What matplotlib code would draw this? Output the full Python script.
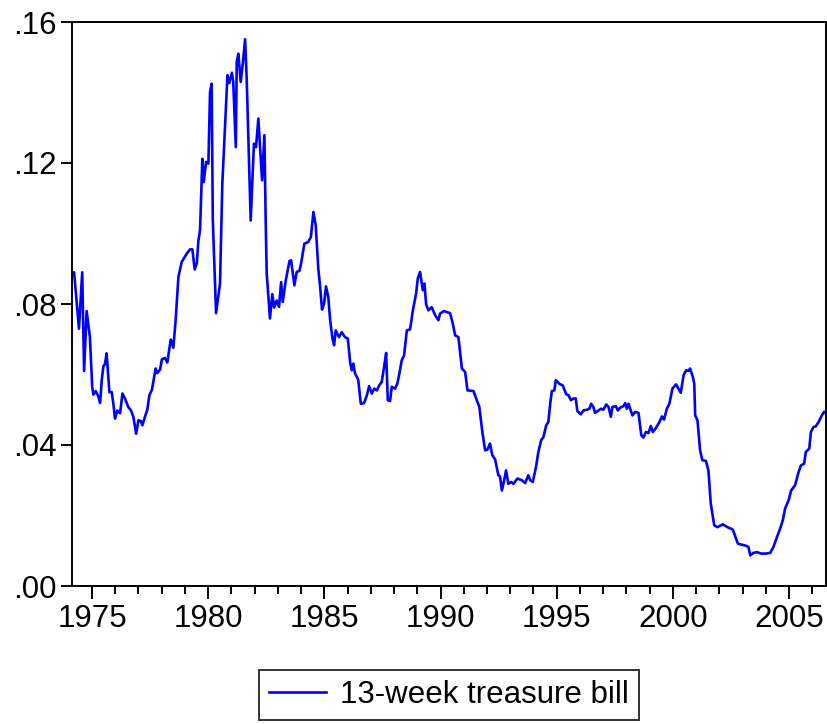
import matplotlib
matplotlib.use("Agg")
import matplotlib.pyplot as plt
from matplotlib.ticker import MultipleLocator, FixedLocator, FuncFormatter

plt.rcParams['font.family'] = ['Liberation Sans', 'DejaVu Sans']

series_label = "13-week treasure bill"

years = [
    1974.14, 1974.23, 1974.44, 1974.58, 1974.66, 1974.77, 1974.91, 1975.01, 1975.06, 1975.16,
    1975.26, 1975.35, 1975.42, 1975.49, 1975.56, 1975.63, 1975.75, 1975.85, 1975.92, 1975.99,
    1976.09, 1976.21, 1976.31, 1976.42, 1976.56, 1976.68, 1976.78, 1976.90, 1977.00, 1977.10,
    1977.17, 1977.28, 1977.38, 1977.47, 1977.58, 1977.74, 1977.81, 1977.93, 1978.01, 1978.14,
    1978.24, 1978.39, 1978.50, 1978.60, 1978.72, 1978.86, 1979.08, 1979.22, 1979.32, 1979.42,
    1979.51, 1979.58, 1979.65, 1979.75, 1979.81, 1979.91, 1980.01, 1980.08, 1980.15, 1980.20,
    1980.34, 1980.51, 1980.61, 1980.83, 1980.91, 1981.02, 1981.08, 1981.19, 1981.23, 1981.30,
    1981.40, 1981.49, 1981.59, 1981.66, 1981.73, 1981.83, 1981.97, 1982.06, 1982.16, 1982.32,
    1982.42, 1982.48, 1982.52, 1982.66, 1982.76, 1982.84, 1982.95, 1983.05, 1983.14, 1983.21,
    1983.34, 1983.50, 1983.57, 1983.71, 1983.81, 1983.93, 1984.00, 1984.14, 1984.31, 1984.42,
    1984.53, 1984.63, 1984.74, 1984.82, 1984.90, 1984.99, 1985.07, 1985.17, 1985.25, 1985.35,
    1985.42, 1985.49, 1985.63, 1985.75, 1985.89, 1986.01, 1986.11, 1986.18, 1986.25, 1986.32,
    1986.40, 1986.46, 1986.57, 1986.71, 1986.83, 1986.93, 1987.04, 1987.15, 1987.26, 1987.36,
    1987.47, 1987.57, 1987.66, 1987.73, 1987.83, 1987.90, 1988.05, 1988.14, 1988.23, 1988.33,
    1988.43, 1988.55, 1988.69, 1988.81, 1988.95, 1989.02, 1989.12, 1989.24, 1989.31, 1989.38,
    1989.48, 1989.62, 1989.77, 1989.91, 1989.98, 1990.15, 1990.41, 1990.53, 1990.63, 1990.77,
    1990.92, 1991.06, 1991.16, 1991.42, 1991.56, 1991.67, 1991.80, 1991.92, 1992.02, 1992.13,
    1992.23, 1992.35, 1992.49, 1992.56, 1992.64, 1992.74, 1992.82, 1992.92, 1993.04, 1993.14,
    1993.31, 1993.50, 1993.64, 1993.78, 1993.86, 1993.97, 1994.11, 1994.21, 1994.33, 1994.43,
    1994.55, 1994.64, 1994.72, 1994.79, 1994.90, 1994.96, 1995.11, 1995.26, 1995.41, 1995.51,
    1995.61, 1995.72, 1995.82, 1995.89, 1996.04, 1996.15, 1996.30, 1996.41, 1996.48, 1996.58,
    1996.65, 1996.80, 1996.91, 1997.01, 1997.13, 1997.23, 1997.33, 1997.40, 1997.55, 1997.63,
    1997.73, 1997.87, 1997.95, 1998.02, 1998.09, 1998.26, 1998.38, 1998.52, 1998.64, 1998.73,
    1998.84, 1998.95, 1999.05, 1999.14, 1999.28, 1999.42, 1999.53, 1999.62, 1999.74, 1999.85,
    1999.98, 2000.14, 2000.34, 2000.46, 2000.57, 2000.67, 2000.74, 2000.86, 2000.92, 2000.96,
    2001.06, 2001.17, 2001.27, 2001.42, 2001.53, 2001.63, 2001.78, 2001.92, 2002.15, 2002.35,
    2002.58, 2002.80, 2002.97, 2003.11, 2003.25, 2003.33, 2003.47, 2003.62, 2003.79, 2004.02,
    2004.19, 2004.33, 2004.48, 2004.59, 2004.73, 2004.83, 2004.98, 2005.09, 2005.26, 2005.41,
    2005.51, 2005.65, 2005.72, 2005.87, 2005.94, 2006.05, 2006.15, 2006.27, 2006.41, 2006.51,
    2006.58,
]

rates = [
    0.0880, 0.0890, 0.0730, 0.0890, 0.0610, 0.0780, 0.0706, 0.0565, 0.0543, 0.0553,
    0.0540, 0.0519, 0.0584, 0.0623, 0.0630, 0.0660, 0.0550, 0.0550, 0.0517, 0.0475,
    0.0498, 0.0490, 0.0546, 0.0532, 0.0508, 0.0498, 0.0480, 0.0432, 0.0470, 0.0468,
    0.0456, 0.0480, 0.0500, 0.0541, 0.0557, 0.0617, 0.0604, 0.0614, 0.0643, 0.0647,
    0.0634, 0.0699, 0.0676, 0.0754, 0.0877, 0.0919, 0.0943, 0.0955, 0.0955, 0.0898,
    0.0915, 0.0980, 0.1009, 0.1212, 0.1146, 0.1203, 0.1198, 0.1401, 0.1425, 0.1037,
    0.0774, 0.0858, 0.1142, 0.1449, 0.1427, 0.1456, 0.1430, 0.1245, 0.1487, 0.1510,
    0.1430, 0.1482, 0.1551, 0.1435, 0.1274, 0.1037, 0.1255, 0.1245, 0.1326, 0.1151,
    0.1279, 0.1018, 0.0886, 0.0759, 0.0828, 0.0790, 0.0810, 0.0792, 0.0862, 0.0806,
    0.0867, 0.0922, 0.0924, 0.0853, 0.0891, 0.0894, 0.0915, 0.0971, 0.0976, 0.0990,
    0.1061, 0.1023, 0.0900, 0.0848, 0.0784, 0.0801, 0.0850, 0.0820, 0.0754, 0.0702,
    0.0683, 0.0725, 0.0706, 0.0720, 0.0706, 0.0702, 0.0635, 0.0612, 0.0631, 0.0603,
    0.0593, 0.0584, 0.0517, 0.0519, 0.0541, 0.0567, 0.0546, 0.0560, 0.0555, 0.0569,
    0.0579, 0.0621, 0.0661, 0.0527, 0.0525, 0.0565, 0.0560, 0.0574, 0.0603, 0.0640,
    0.0654, 0.0725, 0.0728, 0.0782, 0.0830, 0.0872, 0.0891, 0.0839, 0.0858, 0.0799,
    0.0782, 0.0791, 0.0768, 0.0754, 0.0773, 0.0780, 0.0774, 0.0744, 0.0711, 0.0706,
    0.0617, 0.0607, 0.0555, 0.0553, 0.0527, 0.0508, 0.0437, 0.0385, 0.0387, 0.0404,
    0.0371, 0.0359, 0.0314, 0.0311, 0.0271, 0.0300, 0.0328, 0.0290, 0.0295, 0.0290,
    0.0305, 0.0300, 0.0292, 0.0314, 0.0300, 0.0295, 0.0338, 0.0380, 0.0413, 0.0423,
    0.0456, 0.0465, 0.0517, 0.0553, 0.0555, 0.0584, 0.0574, 0.0569, 0.0544, 0.0541,
    0.0527, 0.0532, 0.0532, 0.0496, 0.0487, 0.0498, 0.0500, 0.0503, 0.0517, 0.0508,
    0.0491, 0.0498, 0.0503, 0.0500, 0.0515, 0.0508, 0.0480, 0.0508, 0.0510, 0.0498,
    0.0506, 0.0510, 0.0519, 0.0503, 0.0517, 0.0484, 0.0494, 0.0491, 0.0428, 0.0421,
    0.0437, 0.0434, 0.0454, 0.0437, 0.0449, 0.0465, 0.0481, 0.0472, 0.0503, 0.0517,
    0.0560, 0.0572, 0.0548, 0.0598, 0.0612, 0.0610, 0.0617, 0.0593, 0.0574, 0.0484,
    0.0470, 0.0385, 0.0357, 0.0355, 0.0328, 0.0234, 0.0172, 0.0167, 0.0175, 0.0167,
    0.0160, 0.0120, 0.0117, 0.0115, 0.0111, 0.0087, 0.0094, 0.0096, 0.0092, 0.0092,
    0.0094, 0.0111, 0.0139, 0.0158, 0.0186, 0.0220, 0.0243, 0.0271, 0.0286, 0.0323,
    0.0342, 0.0347, 0.0380, 0.0390, 0.0437, 0.0451, 0.0453, 0.0465, 0.0484, 0.0494,
    0.0490,
]

year_ticks = [1975, 1980, 1985, 1990, 1995, 2000, 2005]
rate_ticks = [0.00, 0.04, 0.08, 0.12, 0.16]

W, H = 827, 724
fig = plt.figure(figsize=(W / 100, H / 100), dpi=100)
ax = fig.add_axes([72 / W, 1 - 586 / H, 754 / W, 564 / H])

ax.plot(years, rates, color='#0000ff', lw=1.9, label=series_label)

ax.set_xlim(1974.14, 2006.59)
ax.set_ylim(0.0, 0.16)

ax.xaxis.set_major_locator(FixedLocator(year_ticks))
ax.xaxis.set_minor_locator(MultipleLocator(1))
ax.yaxis.set_major_locator(FixedLocator(rate_ticks))
ax.yaxis.set_major_formatter(FuncFormatter(lambda v, p: ("%.2f" % v).lstrip("0")))

for s in ax.spines.values():
    s.set_linewidth(1.4)
    s.set_color('black')

ax.tick_params(axis='both', which='both', direction='out', color='black', width=1.4,
               labelsize=22.5, top=False, right=False)
ax.tick_params(axis='x', which='major', length=9.5, pad=3.5)
ax.tick_params(axis='x', which='minor', length=5.5)
ax.tick_params(axis='y', which='major', length=8, pad=3)
ax.tick_params(axis='y', which='minor', left=False)

leg = ax.legend(loc='center', bbox_to_anchor=(0.5, -0.193), fontsize=22.5,
                frameon=True, fancybox=False, handlelength=1.8, handletextpad=0.45,
                borderpad=0.33, borderaxespad=0)
leg.get_frame().set_edgecolor('black')
leg.get_frame().set_linewidth(1.4)

fig.savefig("out.png", dpi=100)
